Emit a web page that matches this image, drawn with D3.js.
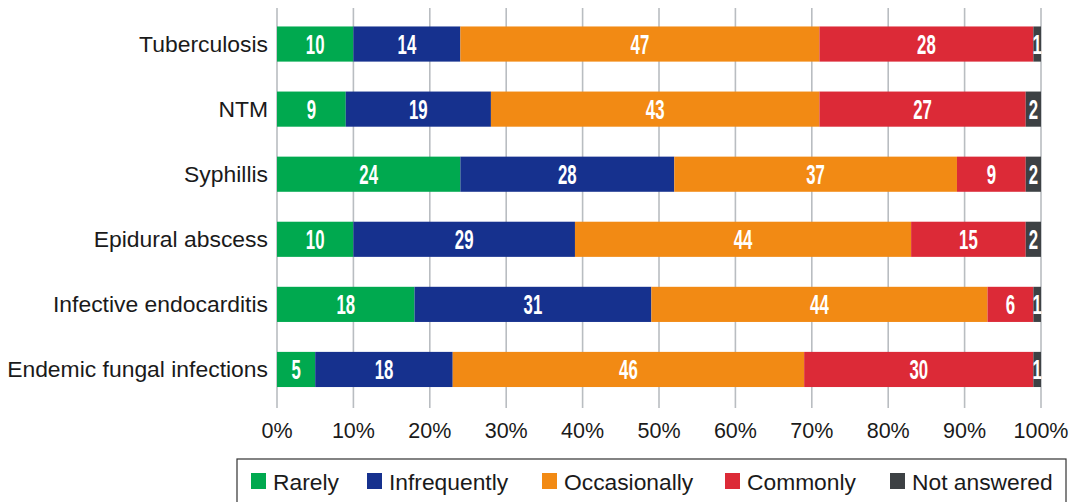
<!DOCTYPE html>
<html><head><meta charset="utf-8">
<script src="https://cdn.jsdelivr.net/npm/d3@7"></script>
<style>body{margin:0;background:#fff}svg{display:block}</style>
</head><body>
<svg id="c" width="1071" height="502"></svg>
<script>
const categories = ["Tuberculosis","NTM","Syphillis","Epidural abscess","Infective endocarditis","Endemic fungal infections"];
const seriesNames = ["Rarely","Infrequently","Occasionally","Commonly","Not answered"];
const rarely       = [10, 9, 24, 10, 18, 5];
const infrequently = [14, 19, 28, 29, 31, 18];
const occasionally = [47, 43, 37, 44, 44, 46];
const commonly     = [28, 27, 9, 15, 6, 30];
const notAnswered  = [1, 2, 2, 2, 1, 1];
const tickValues = [0,10,20,30,40,50,60,70,80,90,100];
const colors = ["#00A94F","#16318E","#F28A14","#DC2A37","#3D4144"];

const seriesVals = [rarely, infrequently, occasionally, commonly, notAnswered];
const rows = categories.map((c,i)=>{const o={cat:c}; seriesNames.forEach((s,j)=>o[s]=seriesVals[j][i]); return o;});
const stacked = d3.stack().keys(seriesNames)(rows);

const svg = d3.select("#c");
const x = d3.scaleLinear().domain([0,100]).range([277,1041]);
const y = d3.scaleBand().domain(categories).range([11.5,402]).paddingInner(0.46).paddingOuter(0.23);

// grid
svg.append("g").selectAll("line").data(tickValues).join("line")
  .attr("x1",d=>x(d)).attr("x2",d=>x(d)).attr("y1",8).attr("y2",408)
  .attr("stroke","#B9BDC1").attr("stroke-width",1.6);

// tick labels
svg.append("g").selectAll("text").data(tickValues).join("text")
  .attr("x",d=>x(d)).attr("y",438).attr("text-anchor","middle")
  .attr("font-family","Liberation Sans, Arial, sans-serif").attr("font-size",21.5).attr("fill","#1a1a1a")
  .text(d=>d+"%");

// category labels
svg.append("g").selectAll("text").data(categories).join("text")
  .attr("x",268).attr("y",d=>y(d)+y.bandwidth()/2+8).attr("text-anchor","end")
  .attr("font-family","Liberation Sans, Arial, sans-serif").attr("font-size",22.9).attr("fill","#1a1a1a")
  .text(d=>d);

// bars
const g = svg.append("g");
stacked.forEach((s,si)=>{
  const gg = g.append("g");
  gg.selectAll("rect").data(s).join("rect")
    .attr("x",d=>x(d[0])).attr("width",d=>x(d[1])-x(d[0]))
    .attr("y",d=>y(d.data.cat)).attr("height",y.bandwidth())
    .attr("fill",colors[si]);
  gg.selectAll("text").data(s).join("text")
    .attr("transform",d=>`translate(${(x(d[0])+x(d[1]))/2},${y(d.data.cat)+y.bandwidth()/2+10}) scale(0.6,1)`)
    .attr("text-anchor","middle").attr("fill","#fff")
    .attr("font-family","Liberation Sans, Arial, sans-serif").attr("font-weight","bold").attr("font-size",28)
    .text(d=>d[1]-d[0]);
});

// legend
const lg = svg.append("g");
lg.append("rect").attr("x",237).attr("y",459).attr("width",829).attr("height",60)
  .attr("fill","none").attr("stroke","#333").attr("stroke-width",1.2);
const legX = [251,367,542,725,890];
seriesNames.forEach((s,i)=>{
  lg.append("rect").attr("x",legX[i]).attr("y",473).attr("width",15).attr("height",16).attr("fill",colors[i]);
  lg.append("text").attr("x",legX[i]+22).attr("y",490)
    .attr("font-family","Liberation Sans, Arial, sans-serif").attr("font-size",22.8).attr("fill","#1a1a1a").text(s);
});
</script>
</body></html>
